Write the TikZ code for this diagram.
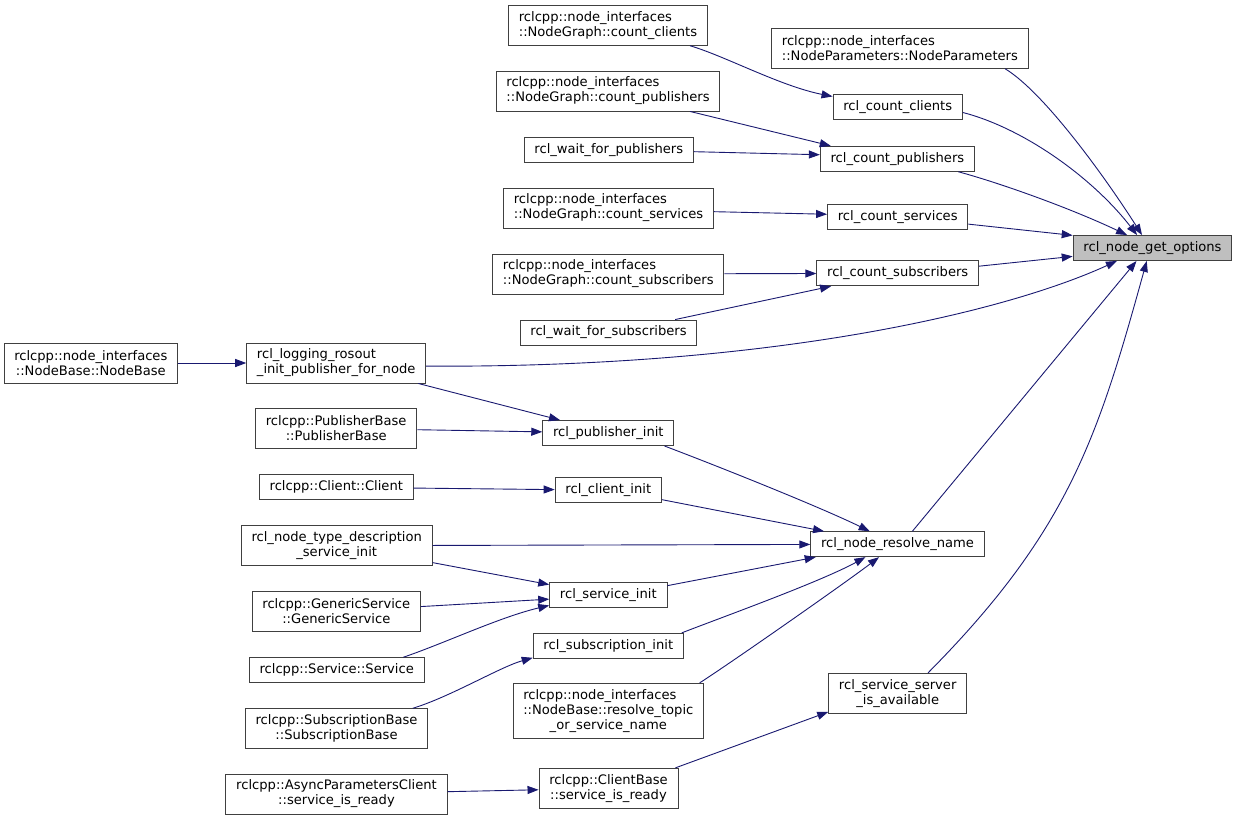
\documentclass[tikz,border=0pt]{standalone}
\usepackage{fontspec}
\setmainfont{DejaVu Sans}
\usetikzlibrary{arrows.meta}
\definecolor{CallBlue}{HTML}{191970}
\definecolor{BoxInk}{HTML}{404040}
\definecolor{RootGrey}{HTML}{BFBFBF}

\begin{document}
\begin{tikzpicture}[x=1pt,y=-1pt,font=\fontsize{13.1}{15}\selectfont,>={Triangle[length=11pt,width=8pt]}]
\tikzset{
  fn/.style={draw=BoxInk,line width=0.9pt,fill=white,inner xsep=10.3pt,inner ysep=2pt,minimum height=25pt,align=center},
  fn2/.style={fn,minimum height=40pt},
  fn3/.style={fn,minimum height=55pt},
  root/.style={fn,fill=RootGrey},
  call/.style={CallBlue,line width=0.9pt,->}
}
\useasboundingbox (0,0) rectangle (1239,820);

\node[root] (opts) at (1152.5,248) {rcl\_node\_get\_options};

\node[fn2,align=left] (ccng) at (608,25.3) {rclcpp::node\_interfaces\\::NodeGraph::count\_clients};
\node[fn2,align=left] (np) at (899.9,48.3) {rclcpp::node\_interfaces\\::NodeParameters::NodeParameters};
\node[fn2,align=left] (cpng) at (608,91) {rclcpp::node\_interfaces\\::NodeGraph::count\_publishers};
\node[fn] (wfp) at (608.8,150.2) {rcl\_wait\_for\_publishers};
\node[fn] (rcc) at (897.7,106.8) {rcl\_count\_clients};
\node[fn] (rcp) at (897.4,158.8) {rcl\_count\_publishers};
\node[fn2,align=left] (csng) at (608.5,208) {rclcpp::node\_interfaces\\::NodeGraph::count\_services};
\node[fn] (rcs) at (897.7,216.7) {rcl\_count\_services};
\node[fn2,align=left] (csubng) at (608.3,274) {rclcpp::node\_interfaces\\::NodeGraph::count\_subscribers};
\node[fn] (rcsub) at (897.7,273.3) {rcl\_count\_subscribers};
\node[fn] (wfs) at (608.5,332.5) {rcl\_wait\_for\_subscribers};

\node[fn2] (nb) at (90.8,363) {rclcpp::node\_interfaces\\::NodeBase::NodeBase};
\node[fn2,align=left] (rlog) at (336.2,363) {rcl\_logging\_rosout\\\_init\_publisher\_for\_node};
\node[fn2] (pb) at (336.2,428.3) {rclcpp::PublisherBase\\::PublisherBase};
\node[fn] (rpi) at (608.3,433) {rcl\_publisher\_init};
\node[fn] (cli) at (336.3,487.2) {rclcpp::Client::Client};
\node[fn] (rci) at (608.3,490.2) {rcl\_client\_init};
\node[fn2] (ntd) at (336.7,545.7) {rcl\_node\_type\_description\\\_service\_init};
\node[fn] (rnr) at (897.5,544.2) {rcl\_node\_resolve\_name};
\node[fn2] (gs) at (336.3,611) {rclcpp::GenericService\\::GenericService};
\node[fn] (rsi) at (608.3,595) {rcl\_service\_init};
\node[fn] (svc) at (336.7,670.2) {rclcpp::Service::Service};
\node[fn] (rsub) at (608.3,645.8) {rcl\_subscription\_init};
\node[fn3] (rt) at (608.3,710.8) {{\begin{tabular}[b]{@{}l@{}}rclcpp::node\_interfaces\\::NodeBase::resolve\_topic\end{tabular}}\\\_or\_service\_name};
\node[fn2] (ssa) at (897.7,693.3) {rcl\_service\_server\\\_is\_available};
\node[fn2] (sb) at (336.5,728.7) {rclcpp::SubscriptionBase\\::SubscriptionBase};
\node[fn2] (apc) at (336.5,794) {rclcpp::AsyncParametersClient\\::service\_is\_ready};
\node[fn2] (cbr) at (608.5,788.3) {rclcpp::ClientBase\\::service\_is\_ready};

\draw[call] (np.-11.3) .. controls (1045,93) and (1107,180) .. (opts.129.7);
\draw[call] (rcc.-5.7) .. controls (1023,128) and (1092,177) .. (opts.140.6);
\draw[call] (rcp.-12.3) .. controls (1000,183) and (1070,208) .. (opts.153.3);
\draw[call] (rcs.-6.7) -- (opts.171.9);
\draw[call] (rcsub.5.8) -- (opts.186.4);
\draw[call] (rlog.-2.3) .. controls (780,368) and (1010,310) .. (opts.200);
\draw[call] (rnr.41.4) -- (opts.219.4);
\draw[call] (ssa.34.6) .. controls (1068.7,531) and (1098,437) .. (opts.246);

\draw[call] (ccng.-14.5) .. controls (725,56) and (780,86) .. (rcc.171.7);
\draw[call] (cpng.-14.3) -- (rcp.169.9);
\draw[call] (wfp.-1.7) -- (rcp.177.9);
\draw[call] (csng.-2) -- (rcs.178.6);
\draw[call] (csubng) -- (rcsub);
\draw[call] (wfs.11.2) -- (rcsub.191.2);

\draw[call] (nb) -- (rlog);
\draw[call] (rlog.-14.3) -- (rpi.165.4);
\draw[call] (pb) -- (rpi);
\draw[call] (cli) -- (rci);
\draw[call] (rpi.-13.3) .. controls (720,467) and (820,507) .. (rnr.155.6);
\draw[call] (rci.-10.1) -- (rnr.170);
\draw[call] (ntd) -- (rnr);
\draw[call] (ntd.-10.4) -- (rsi.170.5);
\draw[call] (gs.3.4) -- (rsi.184.1);
\draw[call] (svc.11.2) .. controls (445,643) and (500,617) .. (rsi.190.4);
\draw[call] (rsi.9.9) -- (rnr.189.6);
\draw[call] (rsub.10.4) .. controls (720,618) and (820,582) .. (rnr.202.1);
\draw[call] (rt.17.9) .. controls (735,660) and (845,583) .. (rnr.215.5);
\draw[call] (sb.15) .. controls (450,697) and (500,667) .. (rsub.189.3);
\draw[call] (apc) -- (cbr);
\draw[call] (cbr.17.6) -- (ssa.195.7);
\end{tikzpicture}
\end{document}
